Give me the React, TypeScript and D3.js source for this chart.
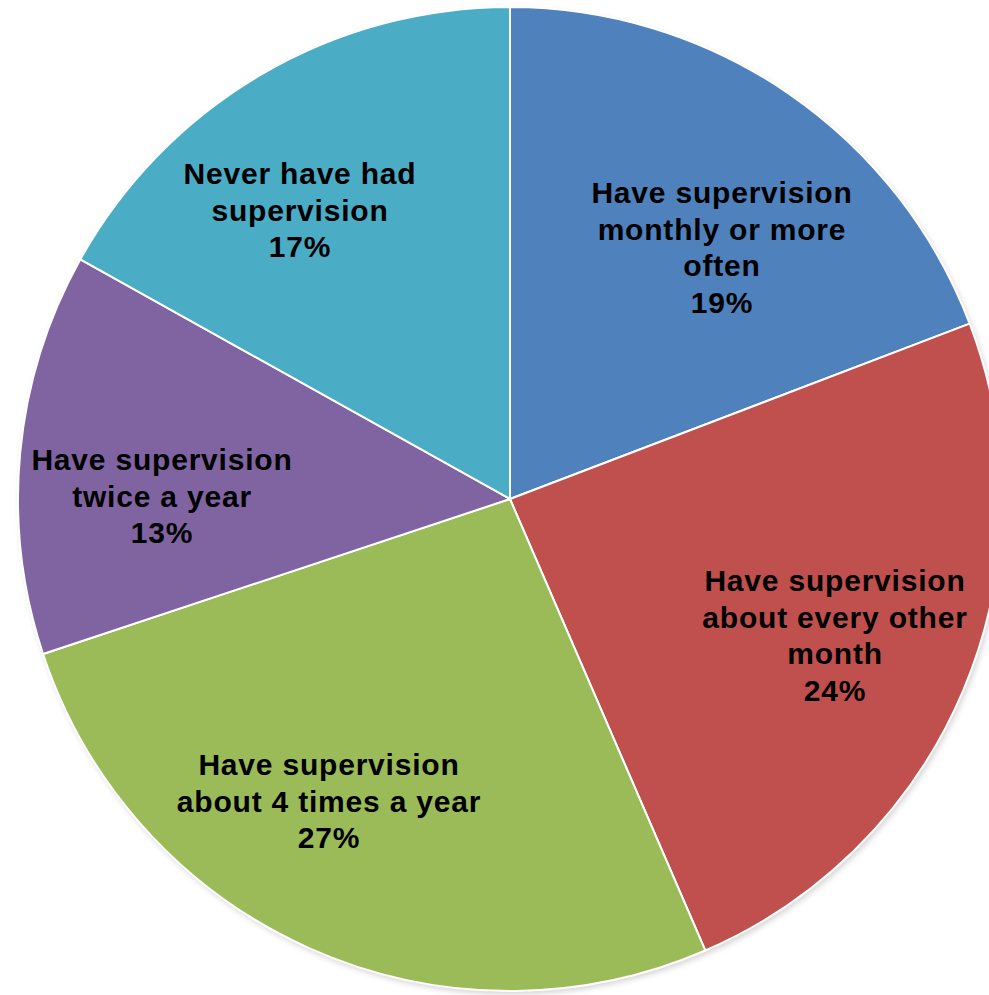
import React from "react";
import * as d3 from "d3";

const categories: string[][] = [
  ["Have supervision", "monthly or more", "often"],
  ["Have supervision", "about every other", "month"],
  ["Have supervision", "about 4 times a year"],
  ["Have supervision", "twice a year"],
  ["Never have had", "supervision"],
];
// slice sizes (labels show rounded percentages)
const values: number[] = [19.2, 24.3, 26.4, 13.2, 16.9];
const percentLabels: string[] = ["19%", "24%", "27%", "13%", "17%"];
const colors: string[] = ["#4F81BD", "#C0504D", "#9BBB59", "#8064A2", "#4BACC6"];

// label anchors (center x, first baseline y)
const labelLayout = [
  { x: 722, y: 203 },
  { x: 835, y: 591 },
  { x: 329, y: 775 },
  { x: 162, y: 470 },
  { x: 300, y: 184 },
];

const W = 989;
const H = 995;
const CX = 510;
const CY = 499;
const R = 492;
const LINE = 36.7;

export default function App() {
  const pie = d3
    .pie<number>()
    .sort(null)
    .value((d) => d)
    .startAngle(0)
    .endAngle(2 * Math.PI);
  const arcs = pie(values);
  const arcGen = d3.arc<d3.PieArcDatum<number>>().innerRadius(0).outerRadius(R);

  return (
    <svg
      width={W}
      height={H}
      style={{ position: "absolute", left: 0, top: 0, background: "#fff" }}
    >
      <defs>
        <filter id="shadow" x="-10%" y="-10%" width="120%" height="120%">
          <feGaussianBlur stdDeviation="3" />
        </filter>
      </defs>
      <circle cx={CX + 2} cy={CY + 3} r={R} fill="#000" opacity={0.18} filter="url(#shadow)" />
      <g transform={`translate(${CX},${CY})`}>
        {arcs.map((a, i) => (
          <path
            key={i}
            d={arcGen(a) || ""}
            fill={colors[i]}
            stroke="#ffffff"
            strokeWidth={2}
            strokeLinejoin="round"
          />
        ))}
      </g>
      {categories.map((lines, i) => {
        const pos = labelLayout[i];
        const all = [...lines, percentLabels[i]];
        return (
          <text
            key={i}
            textAnchor="middle"
            fontFamily="'Liberation Sans', Arial, Helvetica, sans-serif"
            fontWeight="bold"
            fontSize={30}
            letterSpacing={0.8}
            fill="#000"
          >
            {all.map((t, j) => (
              <tspan key={j} x={pos.x} y={pos.y + j * LINE}>
                {t}
              </tspan>
            ))}
          </text>
        );
      })}
    </svg>
  );
}
